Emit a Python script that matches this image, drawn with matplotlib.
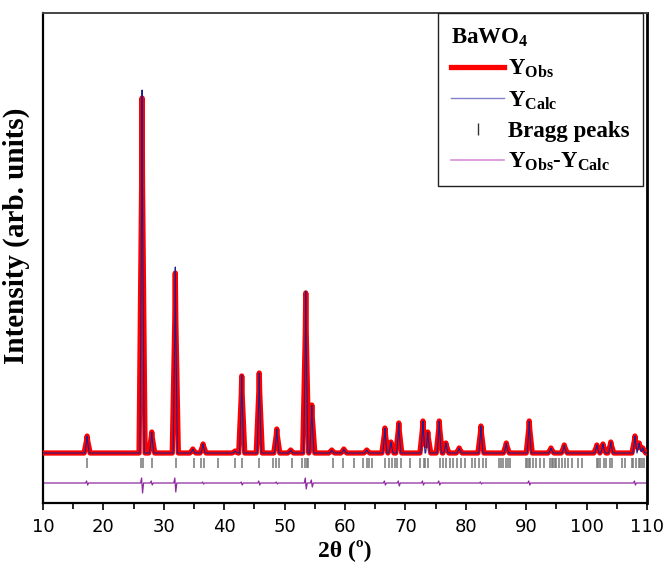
import numpy as np
import matplotlib
matplotlib.use("Agg")
import matplotlib.pyplot as plt
from matplotlib.lines import Line2D
from matplotlib.ticker import MultipleLocator

# ---------------- data ----------------
peak_pos = [17.3, 26.4, 28.0, 31.9, 34.8, 36.5, 41.8, 42.9, 45.8, 48.7, 51.0,
            53.5, 54.5, 57.8, 59.8, 63.6, 66.6, 67.6, 68.9, 72.9, 73.7, 75.6,
            76.7, 78.9, 82.5, 86.7, 90.5, 94.1, 96.3, 101.7, 102.7, 104.0,
            108.0, 108.7, 109.3]
obs_int = [17, 355, 21, 180, 4, 9, 2, 77, 80, 24, 3,
           160, 48, 3, 4, 3, 25, 11, 30, 32, 21, 32,
           10, 5, 27, 10, 32, 5, 8, 8, 9, 11,
           17, 10, 5]
calc_int = [17, 363, 21, 186, 4, 9, 2, 78, 80, 24, 3,
            162, 48, 3, 4, 3, 25, 11, 30, 32, 21, 32,
            10, 5, 27, 10, 32, 5, 8, 8, 9, 11,
            17, 10, 5]

bragg_pos = [17.2, 26.2, 26.5, 28.1, 32.0, 35.0, 36.2, 36.7, 38.9, 41.8, 43.0,
             45.8, 48.0, 48.5, 49.1, 51.2, 52.9, 53.4, 53.7, 53.9, 58.0, 59.6,
             61.5, 63.0, 63.6, 64.0, 64.4, 66.6, 67.2, 67.7, 68.3, 68.6, 69.2,
             70.8, 72.4, 73.0, 73.2, 73.8, 75.7, 76.3, 76.8, 77.4, 77.9, 78.5,
             79.2, 79.9, 81.1, 81.6, 82.2, 82.8, 83.3, 85.5, 85.8, 86.2, 86.7,
             87.0, 87.3, 89.9, 90.2, 90.5, 90.7, 91.1, 91.7, 92.3, 92.9, 93.9,
             94.2, 94.5, 94.8, 95.0, 95.4, 96.0, 96.4, 97.0, 97.5, 98.5, 99.2,
             101.7, 101.9, 102.2, 102.8, 103.2, 103.8, 104.2, 105.8, 106.4,
             107.5, 107.7, 108.2, 108.6, 108.9, 109.2, 109.5]

diff_pos = [17.3, 26.4, 28.0, 31.9, 36.5, 42.9, 45.8, 48.7, 53.5, 54.5, 66.6,
            68.9, 72.9, 75.6, 82.5, 90.5, 108.0]
diff_up = [2, 5, 2, 5, 1, 1, 2, 1, 5, 3, 2, 2, 2, 2, 1, 2, 2]
diff_down = [2, 10, 2, 9, 1, 2, 2, 1, 6, 4, 2, 3, 2, 2, 1, 2, 2]

x_min, x_max = 10, 110

# ---------------- layout / style constants ----------------
HW = 0.5            # half base width of drawn peak (deg)
DIFF_OFF = -30      # offset of difference curve
BRAGG_LO, BRAGG_HI = -15, -5
Y_LO, Y_HI = -50, 440


def profile(pos, hts, hw):
    xs = [x_min, x_max]
    for p in pos:
        xs += [p - hw, p - 0.15 * hw, p, p + 0.15 * hw, p + hw]
    xs = np.unique(np.clip(xs, x_min, x_max))
    ys = np.zeros_like(xs)
    for p, h in zip(pos, hts):
        ys += np.interp(xs, [p - hw, p - 0.15 * hw, p, p + 0.15 * hw, p + hw],
                        [0, 0.75 * h, h, 0.75 * h, 0], left=0, right=0)
    return xs, ys


def diff_curve(pos, up, dn):
    xs = [x_min]
    ys = [0.0]
    for p, u, d in zip(pos, up, dn):
        xs += [p - 0.25, p - 0.08, p + 0.08, p + 0.25]
        ys += [0.0, u, -d, 0.0]
    xs.append(x_max)
    ys.append(0.0)
    return np.array(xs), np.array(ys) + DIFF_OFF


plt.rcParams["mathtext.fontset"] = "custom"
plt.rcParams["mathtext.rm"] = "Liberation Serif:bold"
plt.rcParams["mathtext.it"] = "Liberation Serif:bold"
plt.rcParams["mathtext.bf"] = "Liberation Serif:bold"

fig = plt.figure(figsize=(6.66, 5.75), dpi=100)
ax = fig.add_axes([0.0646, 0.1252, 0.9069, 0.8522])

xo, yo = profile(peak_pos, obs_int, HW)
xc, yc = profile(peak_pos, calc_int, HW * 0.7)
xd, yd = diff_curve(diff_pos, diff_up, diff_down)

ax.plot(xo, yo, color="#ff0000", lw=3.8, solid_joinstyle="round", zorder=3)
ax.plot(xc, yc, color="#20208c", lw=0.8, zorder=4)
ax.vlines(bragg_pos, BRAGG_LO, BRAGG_HI, color="#777777", lw=1.1, zorder=2)
ax.plot(xd, yd, color="#8e2aa0", lw=0.9, zorder=2)

ax.set_xlim(x_min, x_max)
ax.set_ylim(Y_LO, Y_HI)
ax.set_yticks([])
ax.xaxis.set_major_locator(MultipleLocator(10))
ax.xaxis.set_minor_locator(MultipleLocator(5))
ax.tick_params(axis="x", which="major", direction="out", length=5, width=1.2,
               labelsize=13, pad=6)
ax.tick_params(axis="x", which="minor", direction="out", length=4, width=1.2)
for lab in ax.get_xticklabels():
    lab.set_fontfamily("DejaVu Sans")

ax.spines["left"].set_linewidth(1.6)
ax.spines["bottom"].set_linewidth(1.6)
ax.spines["right"].set_linewidth(2.0)
ax.spines["top"].set_linewidth(1.4)
ax.spines["top"].set_color("#444444")

serif_bold = dict(family="Liberation Serif", weight="bold")
ax.set_xlabel("2θ (º)", fontsize=17, labelpad=2, **serif_bold)
ax.set_ylabel("Intensity (arb. units)", fontsize=21, **serif_bold)
ax.yaxis.set_label_coords(-0.021, 0.545)

handles = [
    Line2D([], [], color="#ff0000", lw=3.8),
    Line2D([], [], color="#8080c8", lw=1.0),
    Line2D([], [], color="#333333", lw=0, marker="|", markersize=9,
           markeredgewidth=1.0),
    Line2D([], [], color="#d890dc", lw=1.2),
]
labels = [r"Y$_{\mathrm{Obs}}$", r"Y$_{\mathrm{Calc}}$", "Bragg peaks",
          r"Y$_{\mathrm{Obs}}$-Y$_{\mathrm{Calc}}$"]
leg = ax.legend(handles, labels, loc="upper right",
                bbox_to_anchor=(0.993, 1.0), frameon=True, fancybox=False,
                edgecolor="#222222", framealpha=1, borderaxespad=0,
                prop=dict(family="Liberation Serif", weight="bold", size=16.5),
                title=r"BaWO$_{\mathrm{4}}$",
                title_fontproperties=dict(family="Liberation Serif",
                                          weight="bold", size=16.5),
                handlelength=2.3, handletextpad=0.18, labelspacing=0.4,
                borderpad=0.58)
leg._legend_box.align = "left"
leg.get_frame().set_linewidth(1.0)

fig.savefig("out.png", dpi=100)
